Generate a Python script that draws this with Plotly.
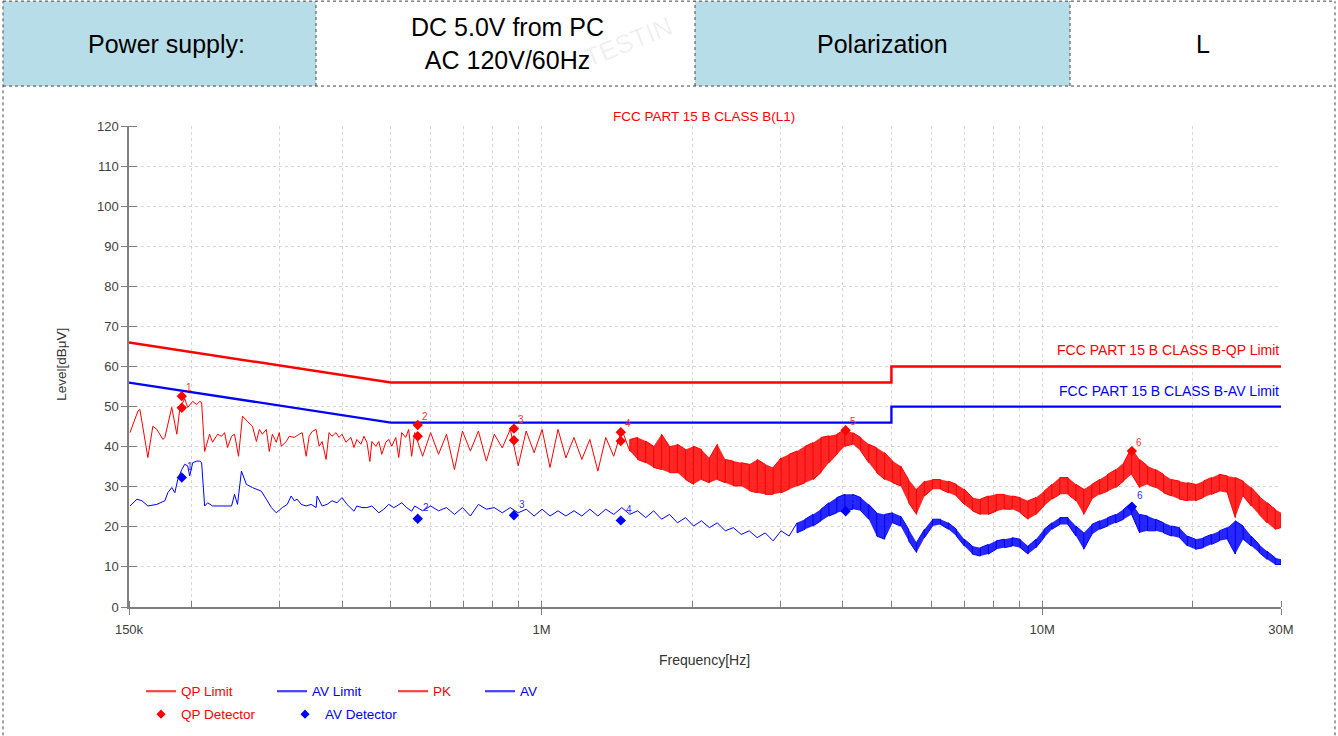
import numpy as np
import plotly.graph_objects as go

# ---------------- data (frequencies in MHz, levels in dBuV) ----------------
qp_limit_freq = [0.15, 0.5, 5.0, 5.0, 30.0]
qp_limit = [66.0, 56.0, 56.0, 60.0, 60.0]
av_limit_freq = [0.15, 0.5, 5.0, 5.0, 30.0]
av_limit = [56.0, 46.0, 46.0, 50.0, 50.0]

# low-frequency part of the sweep (single trace)
pk_sparse_freq = [0.1507, 0.1563, 0.1577, 0.1636, 0.1674, 0.1705, 0.1753, 0.1769, 0.1826, 0.1869,
                  0.1894, 0.1938, 0.1965, 0.2011, 0.2048, 0.2076, 0.2095, 0.2124, 0.2173, 0.2203,
                  0.2254, 0.2296, 0.2328, 0.2360, 0.2404, 0.2437, 0.2482, 0.2528, 0.2586, 0.2646,
                  0.2695, 0.2732, 0.2770, 0.2821, 0.2860, 0.2900, 0.2953, 0.2994, 0.3022, 0.3092,
                  0.3135, 0.3207, 0.3281, 0.3327, 0.3388, 0.3435, 0.3483, 0.3547, 0.3596, 0.3646,
                  0.3713, 0.3764, 0.3816, 0.3887, 0.3941, 0.3995, 0.4069, 0.4163, 0.4221, 0.4279,
                  0.4358, 0.4419, 0.4480, 0.4542, 0.4583, 0.4668, 0.4733, 0.4798, 0.4887, 0.4954,
                  0.5023, 0.5116, 0.5186, 0.5258, 0.5355, 0.5429, 0.5504]
pk_sparse = [43.5, 48.9, 49.3, 37.3, 45.1, 44.3, 41.8, 42.3, 49.8, 43.1,
             49.3, 52.0, 49.8, 51.3, 50.5, 51.3, 51.0, 38.8, 43.1, 41.1,
             43.1, 42.6, 43.5, 39.8, 42.6, 43.1, 37.6, 47.6, 46.3, 45.1,
             41.3, 44.3, 43.1, 44.3, 38.8, 43.1, 41.1, 43.5, 40.1, 41.3,
             42.6, 42.3, 43.1, 43.5, 37.6, 42.6, 43.8, 44.3, 40.1, 41.3,
             36.8, 43.5, 42.6, 43.5, 42.3, 43.1, 41.1, 42.3, 39.8, 41.8,
             40.6, 42.6, 41.1, 36.3, 41.3, 40.1, 41.3, 38.1, 41.1, 41.8,
             40.1, 42.3, 37.3, 43.5, 42.3, 44.3, 37.6]

av_sparse_freq = [0.1507, 0.1556, 0.1592, 0.1636, 0.1705, 0.1769, 0.1793, 0.1826, 0.1852, 0.1877,
                  0.1912, 0.1938, 0.1965, 0.1983, 0.2011, 0.2048, 0.2076, 0.2095, 0.2124, 0.2154,
                  0.2203, 0.2296, 0.2404, 0.2437, 0.2471, 0.2516, 0.2574, 0.2646, 0.2757, 0.2821,
                  0.2887, 0.2953, 0.3036, 0.3106, 0.3163, 0.3207, 0.3251, 0.3312, 0.3388, 0.3467,
                  0.3547, 0.3563, 0.3646, 0.3730, 0.3816, 0.3905, 0.3995, 0.4088, 0.4221, 0.4279,
                  0.4378, 0.4480, 0.4583, 0.4733, 0.4842, 0.4954, 0.5069, 0.5139, 0.5258, 0.5380,
                  0.5504]
av_sparse = [25.2, 26.9, 26.5, 25.2, 25.6, 26.5, 28.5, 29.8, 28.5, 31.8,
             34.3, 35.6, 35.2, 32.7, 36.0, 36.4, 36.4, 36.0, 25.2, 26.0,
             25.2, 25.2, 25.2, 28.1, 25.6, 33.9, 30.6, 29.8, 28.9, 26.9,
             24.8, 23.5, 24.8, 25.6, 27.7, 26.5, 26.9, 25.6, 25.2, 25.6,
             24.8, 27.7, 25.2, 25.6, 26.5, 26.0, 27.3, 25.6, 23.9, 25.2,
             24.8, 24.8, 25.2, 23.5, 24.4, 25.6, 24.8, 25.2, 26.0, 24.8,
             23.9]

# dense part of the sweep: upper / lower extent of the noisy trace at each frequency
sweep_freq = [0.5581, 0.5789, 0.6005, 0.6229, 0.6461, 0.6702, 0.6952, 0.7211, 0.7482, 0.7761,
              0.8050, 0.8350, 0.8662, 0.8985, 0.9320, 0.9667, 1.0028, 1.040, 1.079, 1.119,
              1.161, 1.204, 1.249, 1.296, 1.344, 1.394, 1.447, 1.501, 1.556, 1.615,
              1.675, 1.737, 1.802, 1.869, 1.939, 2.012, 2.087, 2.165, 2.245, 2.329,
              2.416, 2.506, 2.600, 2.697, 2.798, 2.902, 3.010, 3.123, 3.239, 3.360,
              3.486, 3.616, 3.751, 3.890, 4.036, 4.186, 4.342, 4.505, 4.673, 4.847,
              5.028, 5.216, 5.411, 5.613, 5.821, 6.039, 6.265, 6.499, 6.741, 6.993,
              7.254, 7.525, 7.806, 8.097, 8.401, 8.714, 9.039, 9.374, 9.723, 10.09,
              10.46, 10.85, 11.26, 11.68, 12.11, 12.57, 13.03, 13.52, 14.03, 14.55,
              15.09, 15.66, 16.24, 16.85, 17.48, 18.13, 18.81, 19.51, 20.24, 20.99,
              21.78, 22.59, 23.43, 24.31, 25.21, 26.16, 27.13, 28.14, 29.20, 30.0]
pk_hi = [43.5, 44.3, 43.5, 44.3, 43.1, 42.3, 43.9, 43.5, 43.9, 43.5,
         43.1, 42.3, 44.3, 43.1, 43.9, 43.5, 44.3, 43.5, 44.3, 42.7,
         42.3, 42.7, 41.8, 43.1, 42.3, 43.1, 44.3, 41.8, 42.3, 41.4,
         40.1, 43.1, 40.1, 40.6, 39.3, 40.1, 39.3, 37.2, 40.6, 36.8,
         36.4, 36.0, 35.6, 36.8, 35.6, 34.8, 37.2, 38.1, 38.9, 40.1,
         41.0, 42.3, 42.7, 43.1, 44.3, 43.5, 42.3, 40.6, 39.7, 38.5,
         36.4, 35.2, 31.8, 29.4, 31.4, 31.8, 31.8, 31.4, 30.6, 29.4,
         27.3, 26.9, 27.7, 28.1, 28.1, 27.7, 27.3, 26.5, 27.3, 28.9,
         30.6, 32.3, 32.3, 30.6, 29.4, 30.6, 31.8, 33.1, 34.3, 36.0,
         39.7, 36.8, 35.2, 34.3, 33.1, 31.8, 31.4, 31.0, 30.6, 31.4,
         32.3, 33.1, 32.7, 32.3, 31.4, 29.8, 27.7, 26.0, 24.4, 23.5]
pk_lo = [37.6, 37.6, 39.3, 38.1, 35.6, 34.3, 34.3, 38.9, 38.1, 36.4,
         38.9, 39.7, 40.1, 35.2, 37.6, 38.5, 36.4, 34.8, 35.6, 37.2,
         36.0, 36.8, 35.2, 33.9, 36.4, 37.6, 34.3, 38.9, 36.8, 36.0,
         34.8, 34.3, 33.5, 33.5, 31.8, 30.6, 31.8, 31.0, 31.8, 31.0,
         30.2, 30.2, 29.0, 28.5, 28.1, 28.1, 28.5, 29.4, 30.2, 31.0,
         31.8, 33.5, 36.0, 38.1, 40.1, 40.6, 38.9, 36.0, 33.5, 31.8,
         31.0, 30.2, 26.0, 23.1, 27.7, 29.4, 29.4, 28.5, 27.7, 25.6,
         24.0, 23.1, 23.1, 23.9, 24.4, 24.4, 23.5, 21.9, 23.1, 25.2,
         26.9, 28.1, 28.1, 26.5, 23.1, 26.9, 28.1, 28.9, 29.8, 31.4,
         33.1, 29.8, 30.6, 29.8, 28.5, 27.7, 26.9, 26.5, 26.5, 27.3,
         28.1, 28.9, 28.5, 22.3, 27.7, 25.2, 23.1, 21.0, 19.4, 19.8]
av_hi = [25.2, 25.6, 25.2, 25.2, 24.8, 25.2, 24.8, 25.2, 25.6, 25.6,
         24.8, 25.2, 24.8, 24.8, 24.4, 24.4, 24.4, 24.0, 24.0, 24.4,
         24.0, 24.0, 24.4, 24.0, 24.4, 24.0, 24.8, 25.2, 24.0, 24.0,
         24.0, 24.0, 23.1, 22.7, 22.3, 21.9, 21.5, 21.0, 21.0, 20.2,
         19.8, 19.4, 19.0, 18.5, 18.5, 18.5, 19.0, 19.8, 21.0, 21.9,
         23.1, 24.4, 26.0, 27.3, 28.1, 28.1, 27.3, 25.6, 23.5, 23.1,
         23.5, 22.7, 19.4, 16.1, 19.4, 21.9, 21.9, 21.0, 19.4, 16.9,
         15.2, 14.8, 15.6, 16.5, 16.9, 17.3, 16.9, 15.2, 16.9, 19.4,
         21.0, 22.3, 22.3, 20.2, 18.5, 20.6, 21.5, 22.3, 23.1, 24.4,
         26.0, 23.1, 22.7, 21.9, 21.0, 20.2, 19.8, 17.7, 16.9, 17.3,
         18.1, 19.0, 19.8, 21.5, 20.2, 17.7, 15.6, 13.9, 12.3, 11.9]
av_lo = [24.0, 24.0, 23.5, 24.0, 23.5, 23.1, 23.5, 22.7, 24.0, 24.4,
         23.1, 23.5, 23.1, 23.5, 23.1, 22.7, 23.1, 22.7, 22.3, 22.7,
         22.7, 22.7, 22.7, 22.7, 22.7, 23.1, 23.1, 23.1, 22.7, 22.3,
         22.3, 21.9, 21.5, 21.0, 20.6, 20.2, 20.2, 19.8, 19.4, 19.0,
         18.5, 18.1, 17.7, 17.3, 16.9, 16.5, 17.3, 17.7, 18.5, 19.4,
         20.2, 21.5, 22.7, 23.5, 24.0, 24.4, 24.0, 21.9, 17.7, 16.9,
         21.0, 20.2, 16.5, 13.6, 17.3, 20.2, 20.6, 19.4, 17.7, 15.2,
         13.2, 12.7, 13.2, 14.4, 14.8, 15.2, 14.8, 13.2, 14.8, 17.3,
         19.4, 20.6, 20.6, 17.7, 14.4, 18.1, 19.4, 20.2, 21.0, 21.9,
         23.1, 18.5, 19.0, 19.0, 18.5, 17.7, 17.3, 15.2, 14.4, 14.8,
         15.6, 16.5, 16.9, 13.2, 16.9, 15.2, 13.6, 11.9, 10.6, 10.6]

qp_det_freq = [0.1912, 0.1912, 0.566, 0.566, 0.881, 0.881, 1.44, 1.44, 4.05, 15.11]
qp_det = [52.6, 49.7, 45.4, 42.6, 44.5, 41.6, 43.6, 41.4, 44.1, 38.9]
qp_label_freq = [0.1912, 0.566, 0.881, 1.44, 4.05, 15.11]
qp_label_level = [52.6, 45.4, 44.5, 43.6, 44.1, 38.9]
av_det_freq = [0.1912, 0.566, 0.881, 1.44, 4.05, 15.11]
av_det = [32.3, 22.0, 22.9, 21.6, 23.9, 25.0]
det_labels = ["1", "2", "3", "4", "5", "6"]

x_tick_vals = [0.15, 0.2, 0.3, 0.4, 0.5, 0.6, 0.7, 0.8, 0.9, 1, 2, 3, 4, 5, 6, 7, 8, 9, 10, 20, 30]
x_tick_text = ["150k", "", "", "", "", "", "", "", "", "1M", "", "", "", "", "", "", "", "", "10M", "", "30M"]
y_tick_vals = list(range(0, 121, 10))

header_cells = ["Power supply:", "DC 5.0V from PC<br>AC 120V/60Hz", "Polarization", "L"]

# index in the sweep where the trace becomes a dense band
PK_BAND_START = 27
AV_BAND_START = 48

# ---------------- layout geometry ----------------
W, H = 1338, 736
ML, MR, MT, MB = 129, 57, 126, 128.5
PW, PH = W - ML - MR, H - MT - MB
FONT = "Liberation Sans, Arial, sans-serif"
RED, BLUE = "#ff0000", "#0000ff"


def px(x):
    return (x - ML) / PW


def py(y):
    return (H - MB - y) / PH


def trace_path(freq, hi, lo, start):
    """Noisy trace: below `start` it swings between the upper and lower reading of
    neighbouring frequencies; from `start` on every frequency gets a vertical stroke."""
    xs, ys = [], []
    for i, (f, h, l) in enumerate(zip(freq, hi, lo)):
        if i < start:
            xs.append(f)
            ys.append(h if i % 2 == 0 else l)
        else:
            xs += [f, f]
            ys += [h, l] if i % 2 == 0 else [l, h]
    return xs, ys


def band(freq, hi, lo, start):
    f = freq[start:]
    return f + f[::-1], hi[start:] + lo[start:][::-1]


pk_zx, pk_zy = trace_path(sweep_freq, pk_hi, pk_lo, PK_BAND_START)
av_zx, av_zy = trace_path(sweep_freq, av_hi, av_lo, AV_BAND_START)
pk_bx, pk_by = band(sweep_freq, pk_hi, pk_lo, PK_BAND_START)
av_bx, av_by = band(sweep_freq, av_hi, av_lo, AV_BAND_START)

fig = go.Figure()

fig.add_trace(go.Scatter(x=pk_bx, y=pk_by, fill="toself", fillcolor="rgba(255,0,0,0.85)",
                         line=dict(width=0), mode="lines", showlegend=False, hoverinfo="skip"))
fig.add_trace(go.Scatter(x=pk_sparse_freq + pk_zx, y=pk_sparse + pk_zy, mode="lines",
                         line=dict(color=RED, width=1), showlegend=False))
fig.add_trace(go.Scatter(x=av_bx, y=av_by, fill="toself", fillcolor="rgba(0,0,255,0.85)",
                         line=dict(width=0), mode="lines", showlegend=False, hoverinfo="skip"))
fig.add_trace(go.Scatter(x=av_sparse_freq + av_zx, y=av_sparse + av_zy, mode="lines",
                         line=dict(color=BLUE, width=1), showlegend=False))

# limits
fig.add_trace(go.Scatter(x=qp_limit_freq, y=qp_limit, mode="lines",
                         line=dict(color=RED, width=2.5), showlegend=False))
fig.add_trace(go.Scatter(x=av_limit_freq, y=av_limit, mode="lines",
                         line=dict(color=BLUE, width=2.3), showlegend=False))

# detectors
fig.add_trace(go.Scatter(x=qp_det_freq, y=qp_det, mode="markers",
                         marker=dict(symbol="diamond", size=8, color=RED), showlegend=False))
fig.add_trace(go.Scatter(x=av_det_freq, y=av_det, mode="markers",
                         marker=dict(symbol="diamond", size=8, color=BLUE), showlegend=False))

# legend proxies, one legend per entry for exact placement
legend_items = [
    ("QP Limit", "legend", "lines", RED, 146, 692),
    ("AV Limit", "legend2", "lines", BLUE, 277, 692),
    ("PK", "legend3", "lines", RED, 398, 692),
    ("AV", "legend4", "lines", BLUE, 485, 692),
    ("QP Detector", "legend5", "markers", RED, 146, 715),
    ("AV Detector", "legend6", "markers", BLUE, 290, 715),
]
legends = {}
for name, lg, mode, col, lx, ly in legend_items:
    if mode == "lines":
        fig.add_trace(go.Scatter(x=[None], y=[None], mode="lines", name=name, legend=lg,
                                 line=dict(color=col, width=2.2), opacity=0.75))
    else:
        fig.add_trace(go.Scatter(x=[None], y=[None], mode="markers", name=name, legend=lg,
                                 marker=dict(symbol="diamond", size=7, color=col)))
    legends[lg] = dict(x=px(lx - 5), y=py(ly), xanchor="left", yanchor="middle",
                       orientation="h", bgcolor="rgba(0,0,0,0)", borderwidth=0,
                       font=dict(family=FONT, size=13.5, color=col), itemwidth=30)

annotations = []
for f, v, t in zip(qp_label_freq, qp_label_level, det_labels):
    annotations.append(dict(x=np.log10(f), y=v, xref="x", yref="y", text=t, showarrow=False,
                            xshift=7, yshift=9, font=dict(family=FONT, size=10, color="#ff3030")))
for f, v, t in zip(av_det_freq, av_det, det_labels):
    annotations.append(dict(x=np.log10(f), y=v, xref="x", yref="y", text=t, showarrow=False,
                            xshift=8, yshift=11, font=dict(family=FONT, size=10, color="#3030ff")))
annotations.append(dict(x=np.log10(30), y=60, xref="x", yref="y", xanchor="right", yanchor="middle",
                        yshift=17, text="FCC PART 15 B CLASS B-QP Limit", showarrow=False,
                        font=dict(family=FONT, size=14, color=RED)))
annotations.append(dict(x=np.log10(30), y=50, xref="x", yref="y", xanchor="right", yanchor="middle",
                        yshift=16, text="FCC PART 15 B CLASS B-AV Limit", showarrow=False,
                        font=dict(family=FONT, size=14, color=BLUE)))
annotations.append(dict(x=px(704), y=py(116), xref="paper", yref="paper", text="FCC PART 15 B CLASS B(L1)",
                        showarrow=False, xanchor="center", yanchor="middle",
                        font=dict(family=FONT, size=13.5, color=RED)))
annotations.append(dict(x=px(704), y=py(661), xref="paper", yref="paper", text="Frequency[Hz]",
                        showarrow=False, xanchor="center", yanchor="middle",
                        font=dict(family=FONT, size=14, color="#333333")))
annotations.append(dict(x=px(62), y=py(365), xref="paper", yref="paper", text="Level[dBμV]",
                        showarrow=False, xanchor="center", yanchor="middle", textangle=-90,
                        font=dict(family=FONT, size=13.5, color="#333333")))
# faint watermark
annotations.append(dict(x=px(628), y=py(42), xref="paper", yref="paper", text="TESTIN",
                        showarrow=False, xanchor="center", yanchor="middle", textangle=-22,
                        font=dict(family=FONT, size=26, color="rgba(0,0,0,0.07)")))

# header table
col_edges = [3, 316, 695, 1070, 1335]
text_center = [166, 507, 882, 1203]
col_fill = ["#b7dee8", "#ffffff", "#b7dee8", "#ffffff"]
head_top, head_bot = 1, 86
shapes = []
for i in range(4):
    shapes.append(dict(type="rect", xref="paper", yref="paper", x0=px(col_edges[i]), x1=px(col_edges[i + 1]),
                       y0=py(head_bot), y1=py(head_top), fillcolor=col_fill[i], line=dict(width=0),
                       layer="below"))
    annotations.append(dict(x=px(text_center[i]), y=py((head_top + head_bot) / 2),
                            xref="paper", yref="paper", text=header_cells[i], showarrow=False,
                            xanchor="center", yanchor="middle",
                            font=dict(family=FONT, size=25, color="#000000")))
border = dict(color="#444444", width=1, dash="dot")
for yy in [head_top, head_bot]:
    shapes.append(dict(type="line", xref="paper", yref="paper", x0=px(3), x1=px(1335), y0=py(yy), y1=py(yy),
                       line=border))
for xx in col_edges[1:4]:
    shapes.append(dict(type="line", xref="paper", yref="paper", x0=px(xx), x1=px(xx), y0=py(head_bot),
                       y1=py(head_top), line=border))
for xx in [3, 1335]:
    shapes.append(dict(type="line", xref="paper", yref="paper", x0=px(xx), x1=px(xx), y0=py(H),
                       y1=py(head_top), line=border))

axis_col = "#7f7f7f"
fig.update_layout(
    width=W, height=H,
    margin=dict(l=ML, r=MR, t=MT, b=MB, autoexpand=False),
    paper_bgcolor="white", plot_bgcolor="white",
    font=dict(family=FONT),
    showlegend=True,
    annotations=annotations,
    shapes=shapes,
    hovermode=False,
    xaxis=dict(type="log", range=[np.log10(0.15), np.log10(30)], tickmode="array",
               tickvals=x_tick_vals, ticktext=x_tick_text, ticks="outside", ticklen=6, tickwidth=1,
               tickcolor=axis_col, showline=True, linecolor=axis_col, linewidth=1.5,
               showgrid=True, gridcolor="#d6d6d6", griddash="dot", gridwidth=1, zeroline=False,
               tickfont=dict(family=FONT, size=13, color="#404040"), ticklabelstandoff=4,
               minor=dict(tickmode="array", tickvals=x_tick_vals, ticks="inside", ticklen=6,
                          tickcolor=axis_col, showgrid=False)),
    yaxis=dict(range=[0, 120], tickmode="array", tickvals=y_tick_vals, ticks="outside", ticklen=6,
               tickwidth=1, tickcolor=axis_col, showline=True, linecolor=axis_col, linewidth=1.5,
               showgrid=True, gridcolor="#d6d6d6", griddash="dot", gridwidth=1, zeroline=False,
               tickfont=dict(family=FONT, size=13, color="#404040"),
               minor=dict(tickmode="array", tickvals=y_tick_vals, ticks="inside", ticklen=8,
                          tickcolor=axis_col, showgrid=False)),
    **legends,
)

fig.write_html("out.html", config={"displayModeBar": False},
               post_script="document.body.style.margin='0px';")
